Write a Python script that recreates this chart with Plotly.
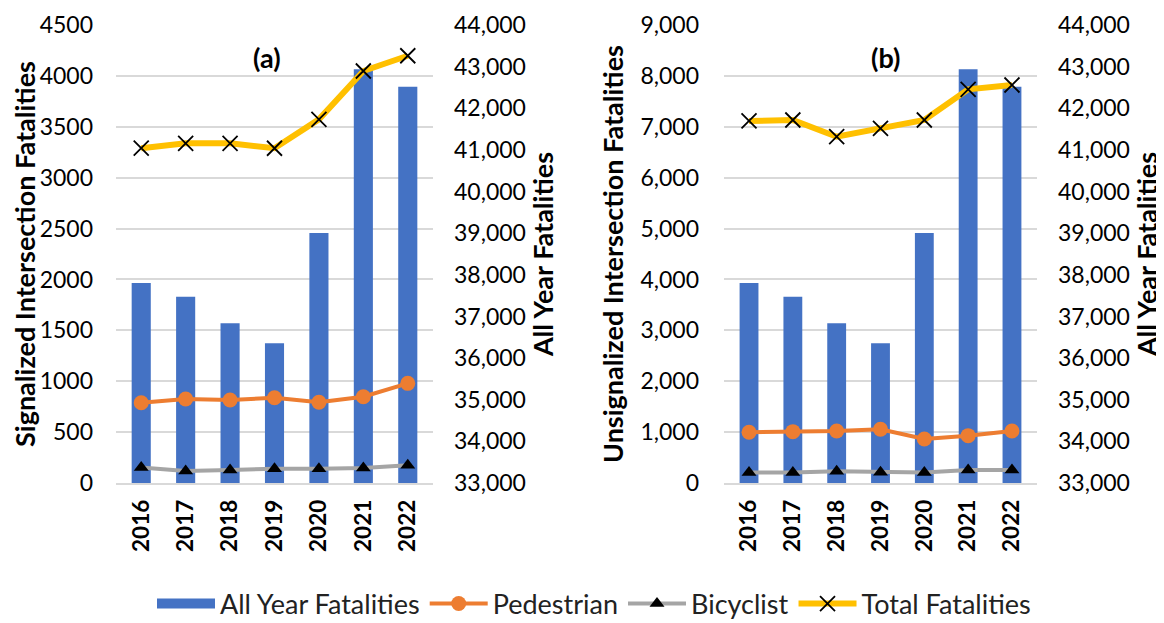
import plotly.graph_objects as go

years = ["2016", "2017", "2018", "2019", "2020", "2021", "2022"]
all_year = [37806, 37473, 36835, 36355, 39007, 42939, 42514]

sig_total = [3290, 3338, 3338, 3289, 3573, 4048, 4198]
sig_ped = [789, 825, 815, 838, 793, 848, 979]
sig_bike = [152, 118, 128, 141, 141, 147, 174]

unsig_total = [7114, 7133, 6805, 6970, 7133, 7736, 7821]
unsig_ped = [996, 1009, 1022, 1055, 865, 930, 1022]
unsig_bike = [205, 205, 230, 210, 205, 255, 255]

# page body has an 8px margin, so the figure is drawn 8px in from the window edge
OFF = 8
W, H = 1164 - OFF, 623 - OFF
FONT = "Lato, 'Open Sans', sans-serif"
BLUE, ORANGE, GRAY, GOLD = "#4472C4", "#ED7D31", "#A5A5A5", "#FFC000"


def px_x(x):
    return (x - OFF) / W


def px_y(y):
    return 1 - (y - OFF) / H


fig = go.Figure()


def add_panel(xa, ybar, yline, total, ped, bike, show):
    fig.add_trace(go.Bar(x=years, y=all_year, name="All Year Fatalities", marker_color=BLUE,
                         marker_line_width=0, width=0.43, xaxis=xa, yaxis=ybar,
                         showlegend=False))
    fig.add_trace(go.Scatter(x=years, y=ped, name="Pedestrian", mode="lines+markers",
                             line=dict(color=ORANGE, width=4), marker=dict(size=15, color=ORANGE),
                             xaxis=xa, yaxis=yline, showlegend=show, legendrank=2))
    fig.add_trace(go.Scatter(x=years, y=bike, name="Bicyclist", mode="lines+markers",
                             line=dict(color=GRAY, width=4),
                             marker=dict(size=13, color="black", symbol="triangle-up"),
                             xaxis=xa, yaxis=yline, showlegend=show, legendrank=3))
    fig.add_trace(go.Scatter(x=years, y=total, name="Total Fatalities", mode="lines+markers",
                             line=dict(color=GOLD, width=6),
                             marker=dict(size=15, color="black", symbol="x-thin",
                                         line=dict(color="black", width=1.8)),
                             xaxis=xa, yaxis=yline, showlegend=show, legendrank=4))


add_panel("x", "y", "y2", sig_total, sig_ped, sig_bike, True)
add_panel("x2", "y3", "y4", unsig_total, unsig_ped, unsig_bike, False)

# legend key for the bars: a wide filled block like the reference's legend
fig.add_trace(go.Scatter(x=[None], y=[None], name="All Year Fatalities", mode="lines",
                         line=dict(color=BLUE, width=15), xaxis="x", yaxis="y",
                         showlegend=True, legendrank=1, hoverinfo="skip"))

ydom = [px_y(483), px_y(25)]
tickf = dict(family=FONT, size=23, color="black")
titlef = dict(family=FONT, size=27, color="black", weight="bold")
xtickf = dict(family=FONT, size=22.5, color="black", weight="bold")

xcommon = dict(type="category", tickangle=-90, tickfont=xtickf, showgrid=False,
               showline=True, linecolor="#d9d9d9", linewidth=1.5, ticks="",
               ticklabelstandoff=6, automargin=False)
ycommon = dict(zeroline=False, tickfont=tickf, automargin=False)
fig.update_layout(
    width=W, height=H, margin=dict(l=0, r=0, t=0, b=0, autoexpand=False),
    paper_bgcolor="white", plot_bgcolor="white",
    barmode="overlay",
    font=dict(family=FONT, color="black"),
    xaxis=dict(domain=[px_x(116), px_x(433)], anchor="y", **xcommon),
    xaxis2=dict(domain=[px_x(724), px_x(1037)], anchor="y3", **xcommon),
    yaxis=dict(domain=ydom, anchor="x", side="right", range=[33000, 44000], dtick=1000,
               tickformat=",", showgrid=False, ticklabelstandoff=20,
               title=dict(text="All Year Fatalities", font=titlef, standoff=7), **ycommon),
    yaxis2=dict(overlaying="y", anchor="x", side="left", range=[0, 4500], dtick=500,
                tickformat="d", showgrid=True, gridcolor="#d9d9d9", gridwidth=1.5,
                ticklabelstandoff=22,
                title=dict(text="Signalized Intersection Fatalities", font=titlef, standoff=4),
                **ycommon),
    yaxis3=dict(domain=ydom, anchor="x2", side="right", range=[33000, 44000], dtick=1000,
                tickformat=",", showgrid=False, ticklabelstandoff=20,
                title=dict(text="All Year Fatalities", font=titlef, standoff=4), **ycommon),
    yaxis4=dict(overlaying="y3", anchor="x2", side="left", range=[0, 9000], dtick=1000,
                tickformat=",", showgrid=True, gridcolor="#d9d9d9", gridwidth=1.5,
                ticklabelstandoff=24,
                title=dict(text="Unsignalized Intersection Fatalities", font=titlef, standoff=8),
                **ycommon),
    legend=dict(orientation="h", x=px_x(594), xanchor="center", y=px_y(604), yanchor="middle",
                font=dict(family=FONT, size=27, color="#222"), itemwidth=58,
                traceorder="normal", bgcolor="rgba(0,0,0,0)"),
    annotations=[
        dict(text="(a)", x=px_x(267), y=px_y(57), xref="paper", yref="paper",
             xanchor="center", yanchor="middle", showarrow=False,
             font=dict(family=FONT, size=27, color="black", weight="bold")),
        dict(text="(b)", x=px_x(885), y=px_y(57), xref="paper", yref="paper",
             xanchor="center", yanchor="middle", showarrow=False,
             font=dict(family=FONT, size=27, color="black", weight="bold")),
    ],
)

fig.write_html("out.html")
